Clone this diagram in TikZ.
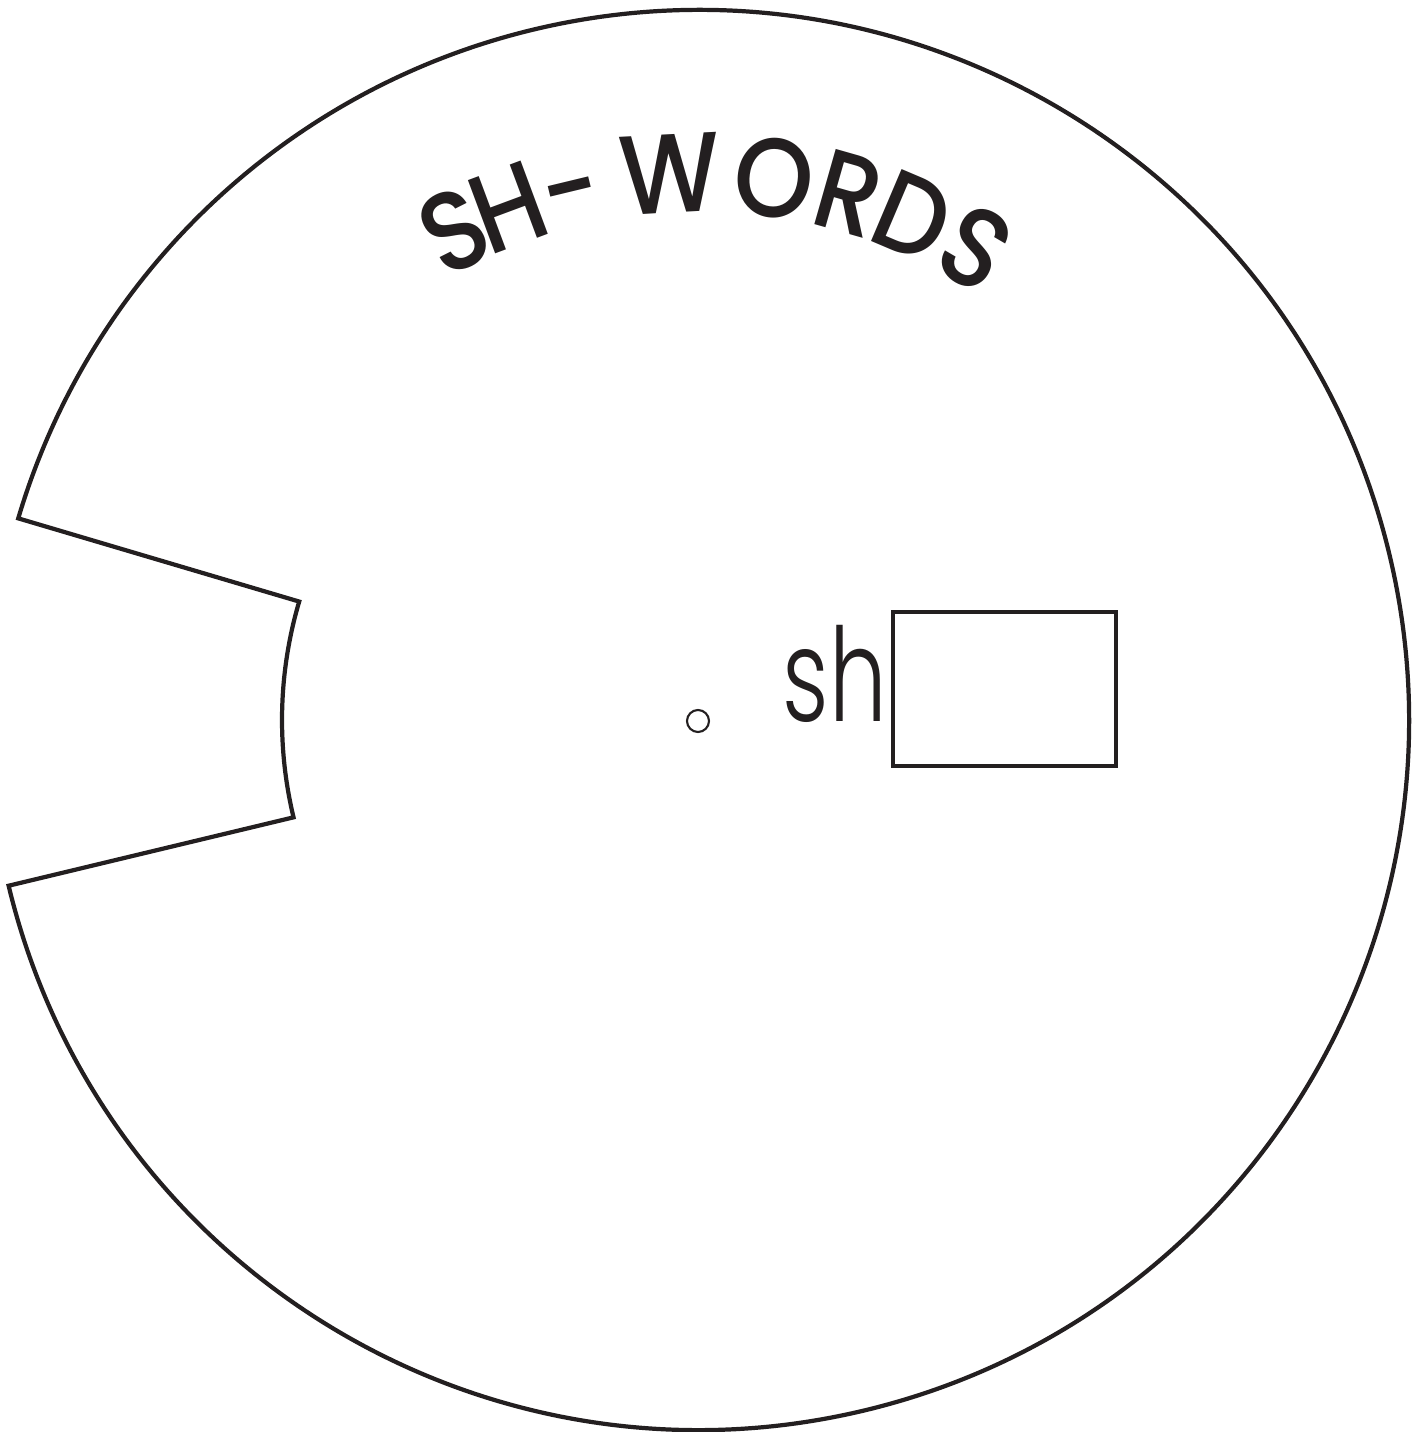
\documentclass[tikz,border=0pt]{standalone}
\usepackage{fontspec}
\setmainfont{Poppins}
\newfontfamily\titlefont{Poppins}[UprightFont={* Medium}, FakeStretch=0.9]
\newfontfamily\labelfont{Poppins}[UprightFont={* Light}, FakeStretch=0.7]
\usetikzlibrary{positioning}
\definecolor{ink}{HTML}{231F20}

\begin{document}
\begin{tikzpicture}[
    wheel/.style={draw=ink, line width=1.2pt, line join=miter},
    window/.style={draw=ink, line width=0.9pt, minimum width=2.23cm, minimum height=1.54cm, inner sep=0pt},
    pin/.style={draw=ink, line width=0.6pt, circle, minimum size=0.22cm, inner sep=0pt},
    titlechar/.style={anchor=base, inner sep=0pt, text=ink, font=\titlefont\fontsize{32}{32}\selectfont}]
  \useasboundingbox (-6.99,-7.12) rectangle (7.27,7.20);
  % outer wheel with the notch cut out on the left
  \draw[wheel] (193.5:7.1) arc[start angle=193.5, end angle=523.5, radius=7.1]
    -- (163.5:4.17) arc[start angle=163.5, end angle=193.5, radius=4.17] -- cycle;
  % centre pin
  \node[pin] (hole) at (-0.01,-0.01) {};
  % title, one letter at a time round the rim
  \foreach \ch/\ang [count=\i] in {S/116.6, H/110.4, -/103.6, W/93.0, O/82.1, R/74.1, D/67.0, S/59.6}
    \node[titlechar, rotate=\ang-90] (t\i) at (\ang:5.08) {\ch};
  % window and its prefix
  \node[window] (box) at (3.055,0.31) {};
  \node[anchor=base east, inner sep=0pt, text=ink, font=\labelfont\fontsize{37}{37}\selectfont]
    (prefix) at ([xshift=-0.04cm]box.west |- 0,-0.02) {sh};
\end{tikzpicture}
\end{document}
